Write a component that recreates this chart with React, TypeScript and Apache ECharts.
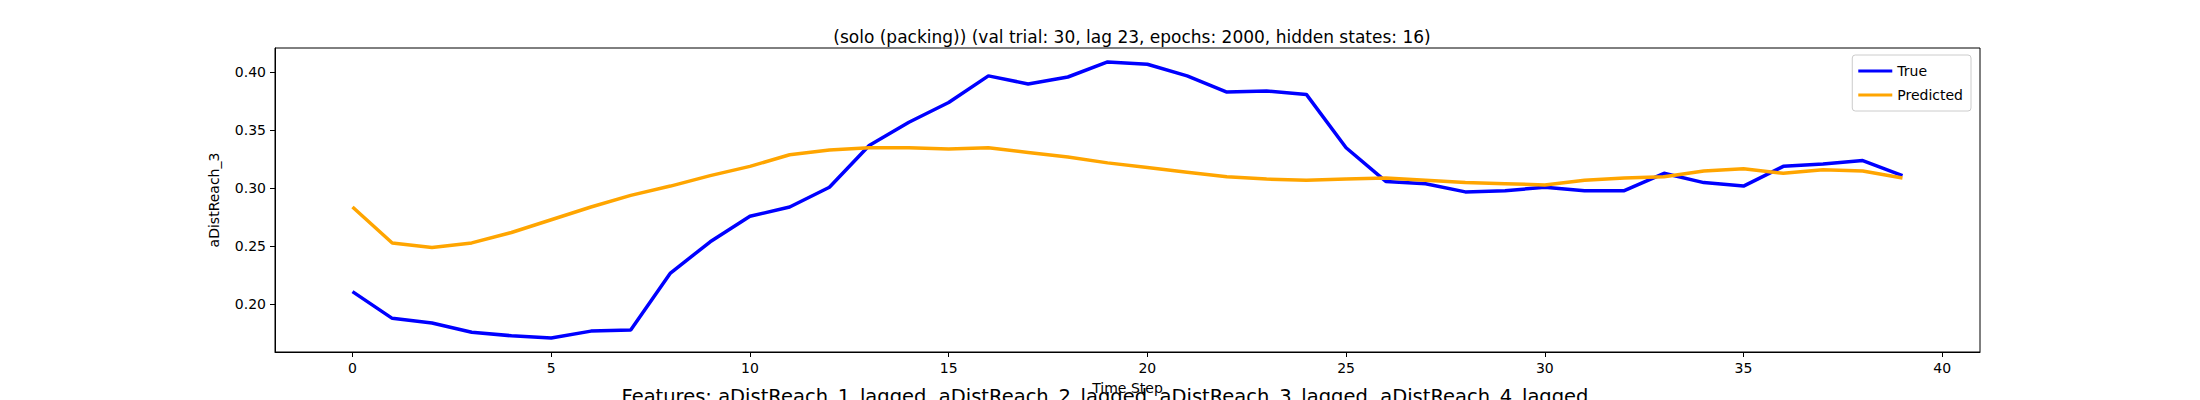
import { useEffect, useRef } from 'react';
import * as echarts from 'echarts';

const steps = Array.from({ length: 40 }, (_, i) => i);
const trueVals = [0.211, 0.188, 0.184, 0.176, 0.173, 0.171, 0.177, 0.178, 0.227, 0.254, 0.276, 0.284, 0.301, 0.337, 0.357, 0.374, 0.397, 0.390, 0.396, 0.409, 0.407, 0.397, 0.383, 0.384, 0.381, 0.335, 0.306, 0.304, 0.297, 0.298, 0.301, 0.298, 0.298, 0.313, 0.305, 0.302, 0.319, 0.321, 0.324, 0.311];
const predVals = [0.284, 0.253, 0.249, 0.253, 0.262, 0.273, 0.284, 0.294, 0.302, 0.311, 0.319, 0.329, 0.333, 0.335, 0.335, 0.334, 0.335, 0.331, 0.327, 0.322, 0.318, 0.314, 0.310, 0.308, 0.307, 0.308, 0.309, 0.307, 0.305, 0.304, 0.303, 0.307, 0.309, 0.310, 0.315, 0.317, 0.313, 0.316, 0.315, 0.309];
const xTicks = [0, 5, 10, 15, 20, 25, 30, 35, 40];
const yTicks = [0.2, 0.25, 0.3, 0.35, 0.4];

const FONT = 'DejaVu Sans';

export default function App() {
  const ref = useRef<HTMLDivElement>(null);

  useEffect(() => {
    document.body.style.margin = '0';
    if (!ref.current) return;
    const chart = echarts.init(ref.current, undefined, { renderer: 'svg' });
    const axisCommon = {
      axisLine: { show: true, onZero: false, lineStyle: { color: '#000', width: 1 } },
      axisTick: { show: true, length: 5, lineStyle: { color: '#000' } },
      splitLine: { show: false },
    };
    chart.setOption({
      animation: false,
      backgroundColor: '#fff',
      textStyle: { fontFamily: FONT },
      title: [
        {
          text: '(solo (packing)) (val trial: 30, lag 23, epochs: 2000, hidden states: 16)',
          left: 1127, top: 23, textAlign: 'center',
          textStyle: { fontFamily: FONT, fontSize: 17, fontWeight: 'normal', color: '#000' },
        },
        {
          text: 'Features: aDistReach_1_lagged, aDistReach_2_lagged, aDistReach_3_lagged, aDistReach_4_lagged',
          left: 1100, top: 381, textAlign: 'center',
          textStyle: { fontFamily: FONT, fontSize: 19.5, fontWeight: 'normal', color: '#000' },
        },
      ],
      legend: {
        orient: 'vertical', right: 229, top: 55,
        itemWidth: 34, itemHeight: 3, itemGap: 10,
        padding: [9, 8, 9, 6],
        borderColor: '#ccc', borderWidth: 1, borderRadius: 3,
        icon: 'rect',
        textStyle: { fontFamily: FONT, fontSize: 14, color: '#000' },
        data: ['True', 'Predicted'],
      },
      grid: { left: 275, right: 220, top: 48, height: 308, show: true, borderColor: '#000', borderWidth: 1 },
      xAxis: {
        type: 'value', min: -1.95, max: 40.95,
        name: 'Time Step', nameLocation: 'middle', nameGap: 29,
        nameTextStyle: { fontFamily: FONT, fontSize: 14, color: '#000' },
        ...axisCommon,
        axisTick: { ...axisCommon.axisTick, customValues: xTicks },
        axisLabel: { customValues: xTicks, fontSize: 14, color: '#000', margin: 9 },
      },
      yAxis: {
        type: 'value', min: 0.159, max: 0.421,
        name: 'aDistReach_3', nameLocation: 'middle', nameGap: 54,
        nameTextStyle: { fontFamily: FONT, fontSize: 14, color: '#000' },
        ...axisCommon,
        axisTick: { ...axisCommon.axisTick, customValues: yTicks },
        axisLabel: { customValues: yTicks, fontSize: 14, color: '#000', margin: 9, formatter: (v: number) => v.toFixed(2) },
      },
      series: [
        {
          name: 'True', type: 'line', showSymbol: false, symbol: 'none',
          lineStyle: { color: '#0000ff', width: 3.5 }, itemStyle: { color: '#0000ff' },
          data: steps.map((s, i) => [s, trueVals[i]]),
        },
        {
          name: 'Predicted', type: 'line', showSymbol: false, symbol: 'none',
          lineStyle: { color: '#ffa500', width: 3.5 }, itemStyle: { color: '#ffa500' },
          data: steps.map((s, i) => [s, predVals[i]]),
        },
      ],
    });
    return () => chart.dispose();
  }, []);

  return <div ref={ref} style={{ width: 2200, height: 400 }} />;
}
